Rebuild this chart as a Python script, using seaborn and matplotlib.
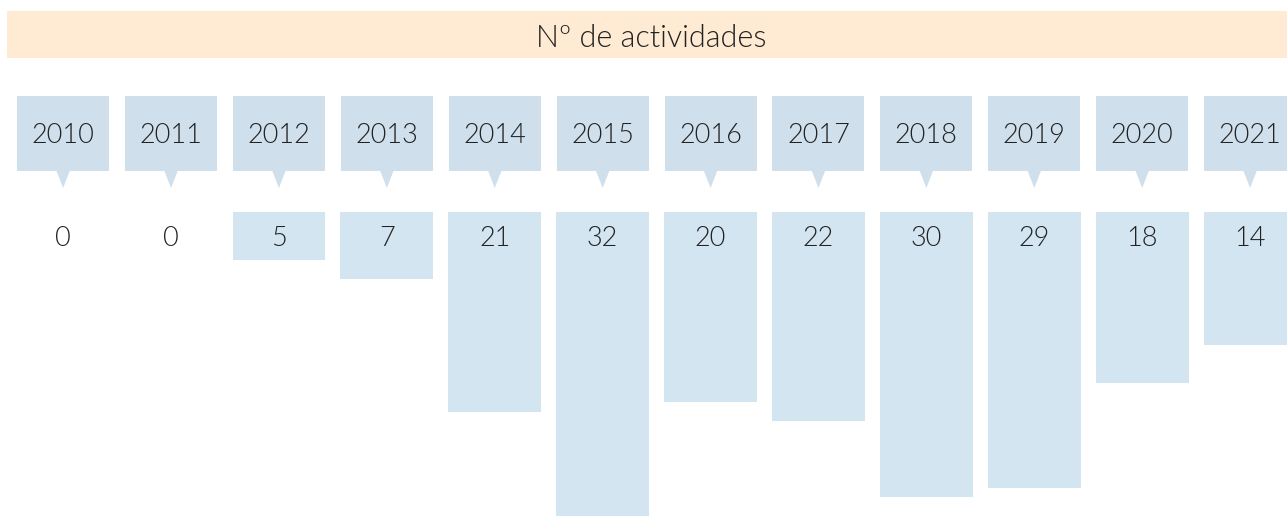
import matplotlib
matplotlib.use("Agg")
import matplotlib.pyplot as plt
import seaborn as sns
from matplotlib.patches import Rectangle, Polygon

years = ["2010", "2011", "2012", "2013", "2014", "2015",
         "2016", "2017", "2018", "2019", "2020", "2021"]
counts = [0, 0, 5, 7, 21, 32, 20, 22, 30, 29, 18, 14]
title = "Nº de actividades"

bar_color = "#d3e5f1"
callout_color = "#cfe0ec"
title_bg = "#ffebd4"
text_color = "#222222"
# Lato Light (weight 300)
font = dict(family=["Lato", "DejaVu Sans"], fontweight=300, color=text_color)

W, H = 1287, 522
fig = plt.figure(figsize=(W / 100, H / 100), dpi=100)
fig.patch.set_facecolor("white")

# bars hang down from y=212px
ax = fig.add_axes([0, 0, 1, 310 / H])
sns.barplot(x=years, y=counts, color=bar_color, saturation=1, width=0.86, ax=ax)
xlim = (-0.585, 11.342)
ax.set_xlim(xlim)
ax.set_ylim(32.6, 0)
ax.axis("off")

for i, v in enumerate(counts):
    ax.annotate(str(v), (i, 0), xytext=(0, -34), textcoords="offset pixels",
                ha="center", va="baseline", fontsize=19.5, **font)

# overlay in pixel units for the year callouts
top = fig.add_axes([0, 0, 1, 1], facecolor="none")
top.set_xlim(xlim)
top.set_ylim(H, 0)
top.axis("off")

box_w = 0.853
for i, y in enumerate(years):
    top.add_patch(Rectangle((i - box_w / 2, 96), box_w, 75, color=callout_color, lw=0))
    top.add_patch(Polygon([(i - 0.065, 170), (i + 0.065, 170), (i, 188)],
                          closed=True, color=callout_color, lw=0))
    top.text(i, 143, y, ha="center", va="baseline", fontsize=19.5, **font)

# title band
fig.add_artist(Rectangle((7 / W, 1 - 58 / H), 1, 47 / H, transform=fig.transFigure,
                         color=title_bg, lw=0, zorder=0))
fig.text(651 / W, 1 - 47 / H, title, ha="center", va="baseline", fontsize=22, **font)

fig.savefig("out.png", dpi=100)
